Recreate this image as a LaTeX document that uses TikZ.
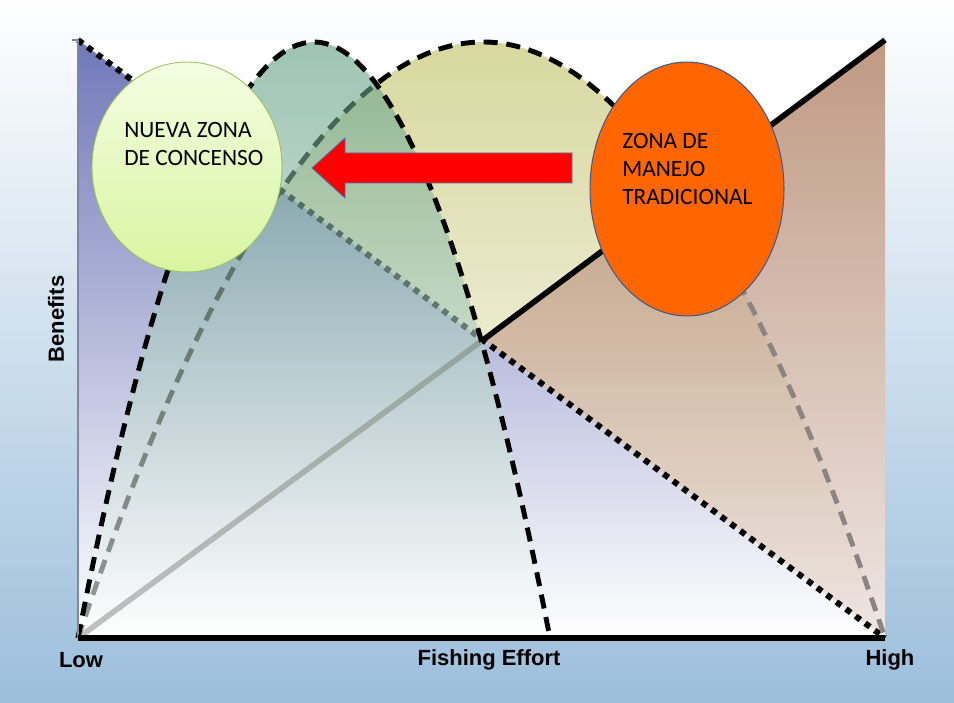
\documentclass[tikz,border=0pt]{standalone}
\usepackage{fontspec}
\setmainfont{Carlito}
\newfontfamily\labelfont{Liberation Sans}
\usepackage{tikz}
\usetikzlibrary{positioning}
\usetikzlibrary{shapes.geometric}
\definecolor{pageblue}{HTML}{9CBEDB}
\definecolor{pagemid}{HTML}{D9E5EF}
\definecolor{benblue}{HTML}{7078B8}
\definecolor{effgreen}{HTML}{5D9D82}
\definecolor{yieldyellow}{HTML}{CECE88}
\definecolor{costbrown}{HTML}{A56F4F}
\definecolor{costbottom}{HTML}{E8DCD8}
\definecolor{dashgray}{HTML}{8C8480}
\definecolor{axisgray}{HTML}{8088A0}
\definecolor{nuevatop}{HTML}{F4FDE2}
\definecolor{nuevabottom}{HTML}{D8F5A0}
\definecolor{nuevaedge}{HTML}{9CC45A}
\definecolor{tradorange}{HTML}{FF6600}
\definecolor{tradedge}{HTML}{3C5C90}
\definecolor{arrowedge}{HTML}{4A72B0}

\begin{document}
\begin{tikzpicture}[x=0.02cm, y=0.02cm,
    axislabel/.style={font=\labelfont\bfseries\fontsize{12.5}{15}\selectfont},
    zonetext/.style={anchor=north west, inner sep=0pt, align=left, font=\fontsize{13.3}{16}\selectfont},
    dashcurve/.style={line width=2.8pt, dash pattern=on 8pt off 5pt},
    dotline/.style={line width=3.4pt, dash pattern=on 3.4pt off 3.4pt}]

    % Background
    \useasboundingbox (0,0) rectangle (954,703);
    \shade[top color=white, middle color=pagemid, bottom color=pageblue] (0,0) rectangle (954,703);
    \fill[white] (78,65) rectangle (885,663);

    % Corners
    \coordinate (O) at (78,65);
    \coordinate (ytop) at (78,663);
    \coordinate (xend) at (885,65);
    \coordinate (tr) at (885,663);
    \coordinate (M) at (483,363);

    % Benefits triangle
    \shade[top color=benblue, bottom color=white] (ytop) -- (xend) -- (O) -- cycle;

    % Yield curve (only above the dotted line)
    \begin{scope}
        \clip (ytop) -- (xend) -- (885,703) -- (78,703) -- cycle;
        \shade[top color=yieldyellow, bottom color=white, fill opacity=0.8]
            (O) parabola bend (483,661) (xend) -- cycle;
    \end{scope}

    % Cost wedge
    \shade[top color=costbrown, bottom color=costbottom, fill opacity=0.7]
        (M) -- (tr) -- (xend) -- cycle;

    % Cost line and dotted line
    \draw[line width=3.2pt, black!60] (O) -- (M);
    \draw[line width=3.2pt] (M) -- (tr);
    \draw[dotline] (ytop) -- (xend);

    % Yield curve border
    \begin{scope}
        \clip (0,0) rectangle (685,703);
        \draw[dashcurve] (O) parabola bend (483,661) (xend);
    \end{scope}
    \begin{scope}
        \clip (685,0) rectangle (954,703);
        \draw[dashcurve, dashgray] (O) parabola bend (483,661) (xend);
    \end{scope}

    % Effort curve
    \shade[top color=effgreen, bottom color=white, fill opacity=0.6]
        (O) parabola bend (314,661) (550,65) -- cycle;
    \draw[dashcurve] (O) parabola bend (314,661) (550,65);

    % Axes
    \draw[axisgray, line width=0.6pt] (ytop) -- (O);
    \draw[axisgray, line width=0.6pt] (ytop) -- ++(-6,0);
    \draw[line width=3.4pt] (O) -- (xend);

    % Zones
    \node[ellipse, draw=nuevaedge, line width=0.5pt, top color=nuevatop, bottom color=nuevabottom,
          minimum width=3.8cm, minimum height=4.2cm, inner sep=0pt] (nueva) at (187,536) {};
    \node[zonetext] (nuevatxt) at (124,581) {NUEVA ZONA\\DE CONCENSO};
    \node[ellipse, draw=tradedge, line width=0.6pt, fill=tradorange,
          minimum width=3.88cm, minimum height=5.08cm, inner sep=0pt] (trad) at (687,514) {};
    \node[zonetext] (tradtxt) at (622,570) {ZONA DE\\MANEJO\\TRADICIONAL};

    % Shift arrow
    \coordinate (arrowtip) at (312,535);
    \coordinate (arrowtail) at (572,535);
    \draw[arrowedge, fill=red, line width=0.5pt] (arrowtip) -- ++(33,30) -- ++(0,-15) -- (arrowtail |- 0,550)
        -- (arrowtail |- 0,520) -- ++(-227,0) -- ++(0,-15) -- cycle;

    % Labels
    \node[axislabel] (low) at (81,43) {Low};
    \node[axislabel] (effort) at (489,43) {Fishing Effort};
    \node[axislabel] (high) at (890,43) {High};
    \node[axislabel, rotate=90] (benefits) at (56,384) {Benefits};
\end{tikzpicture}
\end{document}
